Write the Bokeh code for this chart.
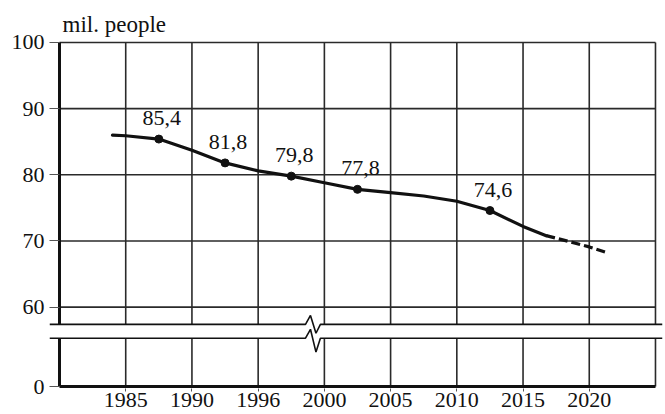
from bokeh.plotting import figure
from bokeh.models import Range1d, FixedTicker
from bokeh.core.properties import value
from bokeh.embed import file_html
from bokeh.resources import INLINE

# ---- data -------------------------------------------------------------
year_labels = ["1985", "1990", "1996", "2000", "2005", "2010", "2015", "2020"]
year_pos = [1, 2, 3, 4, 5, 6, 7, 8]
y_ticks = [60, 70, 80, 90, 100]

mark_pos = [1.5, 2.5, 3.5, 4.5, 6.5]
mark_values = [85.4, 81.8, 79.8, 77.8, 74.6]
mark_text = ["85,4", "81,8", "79,8", "77,8", "74,6"]

solid_pos = [0.8, 1.0, 1.5, 2.0, 2.5, 3.0, 3.5, 4.0, 4.5, 5.0, 5.5, 6.0, 6.5, 7.0, 7.35]
solid_values = [86.0, 85.9, 85.4, 83.7, 81.8, 80.6, 79.8, 78.8, 77.8, 77.3, 76.8, 76.0, 74.6, 72.2, 70.8]
dashed_pos = [7.35, 7.7, 8.0, 8.28]
dashed_values = [70.8, 69.9, 69.1, 68.2]

# ---- broken-axis layout (display units) -------------------------------
UPPER_MIN = 57.4      # bottom edge of the upper panel
LOWER_TOP = 55.3      # top edge of the lower panel
ZERO_POS = 48         # where the value 0 is drawn
X_MIN, X_MAX = 0, 9
FONT = "Liberation Serif"
INK = "#111111"
GRID = "#2a2a2a"

p = figure(width=663, height=414,
           x_range=Range1d(-0.151, 9.106), y_range=Range1d(47.70, 100.30),
           output_backend="svg", toolbar_location=None,
           min_border_left=49, min_border_right=1, min_border_top=40, min_border_bottom=26)
p.outline_line_color = None
p.grid.visible = False
p.background_fill_color = "white"

# title
p.title.text = "mil. people"
p.title.text_font = FONT
p.title.text_font_size = "23px"
p.title.text_font_style = "normal"
p.title.align = "left"
p.title.offset = 13
p.title.standoff = 8
p.title.text_color = INK

# y axis
p.yaxis.ticker = FixedTicker(ticks=[ZERO_POS] + y_ticks)
p.yaxis.major_label_overrides = {ZERO_POS: "0"}
p.yaxis.axis_line_color = None
p.yaxis.major_tick_in = 10
p.yaxis.major_tick_out = 0
p.yaxis.major_tick_line_color = "#555555"
p.yaxis.minor_tick_line_color = None
p.yaxis.major_label_text_font = FONT
p.yaxis.major_label_text_font_size = "22px"
p.yaxis.major_label_text_color = INK
p.yaxis.major_label_standoff = 5

# x axis
p.xaxis.ticker = FixedTicker(ticks=year_pos)
p.xaxis.major_label_overrides = {pos: lab for pos, lab in zip(year_pos, year_labels)}
p.xaxis.axis_line_color = None
p.xaxis.major_tick_in = 0
p.xaxis.major_tick_out = 3
p.xaxis.major_tick_line_color = "#555555"
p.xaxis.minor_tick_line_color = None
p.xaxis.major_label_text_font = FONT
p.xaxis.major_label_text_font_size = "22px"
p.xaxis.major_label_text_color = INK
p.xaxis.major_label_standoff = 1

# grid lines (upper panel)
p.segment(x0=[X_MIN] * len(y_ticks), y0=y_ticks, x1=[X_MAX] * len(y_ticks), y1=y_ticks,
          line_color=GRID, line_width=1.6)
vx = list(range(X_MIN + 1, X_MAX + 1))
p.segment(x0=vx, y0=[UPPER_MIN] * len(vx), x1=vx, y1=[y_ticks[-1]] * len(vx),
          line_color=GRID, line_width=1.6)
# grid lines (lower panel)
p.segment(x0=vx, y0=[ZERO_POS] * len(vx), x1=vx, y1=[LOWER_TOP] * len(vx),
          line_color=GRID, line_width=1.6)
# thick axes
p.segment(x0=[X_MIN, X_MIN], y0=[UPPER_MIN, ZERO_POS], x1=[X_MIN, X_MIN], y1=[y_ticks[-1], LOWER_TOP],
          line_color=INK, line_width=3)
p.segment(x0=[X_MIN], y0=[ZERO_POS], x1=[X_MAX], y1=[ZERO_POS], line_color=INK, line_width=3)

# break lines with zigzag
def break_line(y0, dip):
    xs = [-0.151, 3.715, 3.79, 3.873, 3.94, 9.106]
    ys = [y0, y0, y0 + 1.35, y0 - dip, y0, y0]
    return xs, ys

bx1, by1 = break_line(UPPER_MIN, 1.35)
bx2, by2 = break_line(LOWER_TOP, 2.1)
p.multi_line(xs=[bx1, bx2], ys=[by1, by2], line_color=INK, line_width=1.6)

# data curve
p.line(solid_pos, solid_values, line_color=INK, line_width=3.2, line_join="round", line_cap="round")
p.line(dashed_pos, dashed_values, line_color=INK, line_width=3.2, line_dash="9 4")
p.scatter(mark_pos, mark_values, size=8, color=INK)
p.text(x=mark_pos, y=mark_values, text=mark_text,
       text_font=value(FONT), text_font_size="22px", text_color=INK,
       text_align="center", text_baseline="alphabetic", x_offset=3, y_offset=-21)

open("out.html", "w").write(file_html(p, INLINE))
